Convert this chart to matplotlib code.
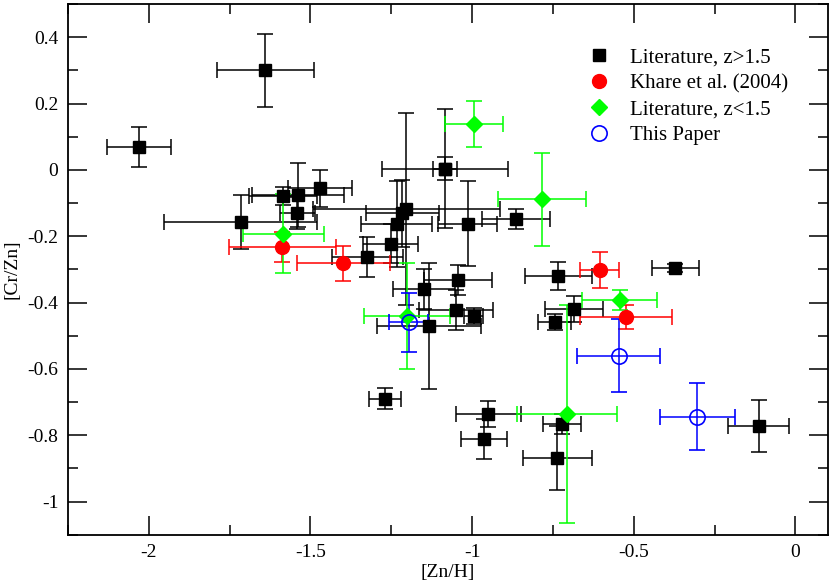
import matplotlib
matplotlib.use("Agg")
import matplotlib.pyplot as plt
from matplotlib.ticker import MultipleLocator, FuncFormatter

plt.rcParams["font.family"] = ["Liberation Serif", "DejaVu Serif"]
plt.rcParams["axes.unicode_minus"] = False

# Literature, z>1.5
lit_hi_x = [-2.03, -1.64, -1.716, -1.584, -1.538, -1.47, -1.541, -1.324, -1.252, -1.233,
            -1.216, -1.203, -1.084, -1.084, -1.014, -0.865, -1.149, -1.043, -1.133, -1.05,
            -0.995, -1.269, -0.95, -0.963, -0.736, -0.722, -0.733, -0.684, -0.745, -0.372,
            -0.114]
lit_hi_y = [0.07, 0.30, -0.157, -0.079, -0.076, -0.056, -0.129, -0.262, -0.222, -0.162,
            -0.131, -0.118, 0.004, 0.004, -0.162, -0.148, -0.358, -0.332, -0.471, -0.423,
            -0.44, -0.69, -0.736, -0.812, -0.869, -0.767, -0.319, -0.42, -0.458, -0.297,
            -0.772]
lit_hi_xerr = [0.10, 0.15, 0.237, 0.105, 0.143, 0.10, 0.054, 0.11, 0.085, 0.11,
               0.113, 0.29, 0.195, 0.037, 0.09, 0.105, 0.097, 0.106, 0.16, 0.115,
               0.03, 0.05, 0.10, 0.07, 0.106, 0.06, 0.104, 0.09, 0.052, 0.073,
               0.094]
lit_hi_yerr = [0.06, 0.11, 0.08, 0.027, 0.097, 0.056, 0.048, 0.06, 0.06, 0.13,
               0.10, 0.29, 0.18, 0.035, 0.128, 0.03, 0.06, 0.045, 0.19, 0.06,
               0.025, 0.032, 0.04, 0.06, 0.096, 0.03, 0.042, 0.04, 0.025, 0.012,
               0.078]

# Khare et al. (2004)
khare_x = [-1.587, -1.398, -0.605, -0.524]
khare_y = [-0.232, -0.282, -0.302, -0.443]
khare_xerr = [0.165, 0.143, 0.06, 0.143]
khare_yerr = [0.045, 0.053, 0.053, 0.037]

# Literature, z<1.5
lit_lo_x = [-1.584, -0.994, -0.785, -1.202, -0.707, -0.543]
lit_lo_y = [-0.192, 0.139, -0.088, -0.44, -0.736, -0.392]
lit_lo_xerr = [0.125, 0.09, 0.136, 0.133, 0.155, 0.116]
lit_lo_yerr = [0.12, 0.07, 0.14, 0.16, 0.33, 0.03]

# This Paper
this_x = [-1.196, -0.547, -0.304]
this_y = [-0.46, -0.56, -0.744]
this_xerr = [0.06, 0.129, 0.116]
this_yerr = [0.09, 0.11, 0.10]

fig = plt.figure(figsize=(8.3, 5.84), dpi=100)
ax = fig.add_axes([0.0819, 0.0844, 0.9154, 0.9086])

eb = dict(linestyle="none", elinewidth=1.1, capsize=5.5, capthick=1.1)
ax.errorbar(lit_hi_x, lit_hi_y, xerr=lit_hi_xerr, yerr=lit_hi_yerr, fmt="s",
            color="black", ms=8, label="Literature, z>1.5", **eb)
ax.errorbar(khare_x, khare_y, xerr=khare_xerr, yerr=khare_yerr, fmt="o",
            color="#ff0000", ms=10, label="Khare et al. (2004)", **eb)
ax.errorbar(lit_lo_x, lit_lo_y, xerr=lit_lo_xerr, yerr=lit_lo_yerr, fmt="D",
            color="#00ff00", ms=8, label="Literature, z<1.5", **eb)
ax.errorbar(this_x, this_y, xerr=this_xerr, yerr=this_yerr, fmt="o",
            color="#0000ff", mfc="none", mew=1.2, ms=11, label="This Paper", **eb)

ax.set_xlim(-2.25, 0.1)
ax.set_ylim(-1.1, 0.5)
ax.xaxis.set_major_locator(MultipleLocator(0.5))
ax.xaxis.set_minor_locator(MultipleLocator(0.25))
ax.yaxis.set_major_locator(MultipleLocator(0.2))
ax.yaxis.set_minor_locator(MultipleLocator(0.1))
fmt = FuncFormatter(lambda v, p: "%g" % round(v, 3))
ax.xaxis.set_major_formatter(fmt)
ax.yaxis.set_major_formatter(fmt)
ax.tick_params(which="both", direction="in", top=True, right=True, labelsize=14, width=1.1)
ax.tick_params(which="major", length=14, pad=7)
ax.tick_params(which="minor", length=7)
for s in ax.spines.values():
    s.set_linewidth(1.3)

ax.set_xlabel("[Zn/H]", fontsize=14, labelpad=2)
ax.set_ylabel("[Cr/Zn]", fontsize=14, labelpad=5)

handles, labels = ax.get_legend_handles_labels()
handles = [h[0] for h in handles]
ax.legend(handles, labels, loc="upper left", bbox_to_anchor=(0.6825, 0.917), frameon=False,
          fontsize=15, handletextpad=0.9, labelspacing=0.3, handlelength=1.2,
          borderpad=0, borderaxespad=0)

fig.savefig("out.png", dpi=100)
